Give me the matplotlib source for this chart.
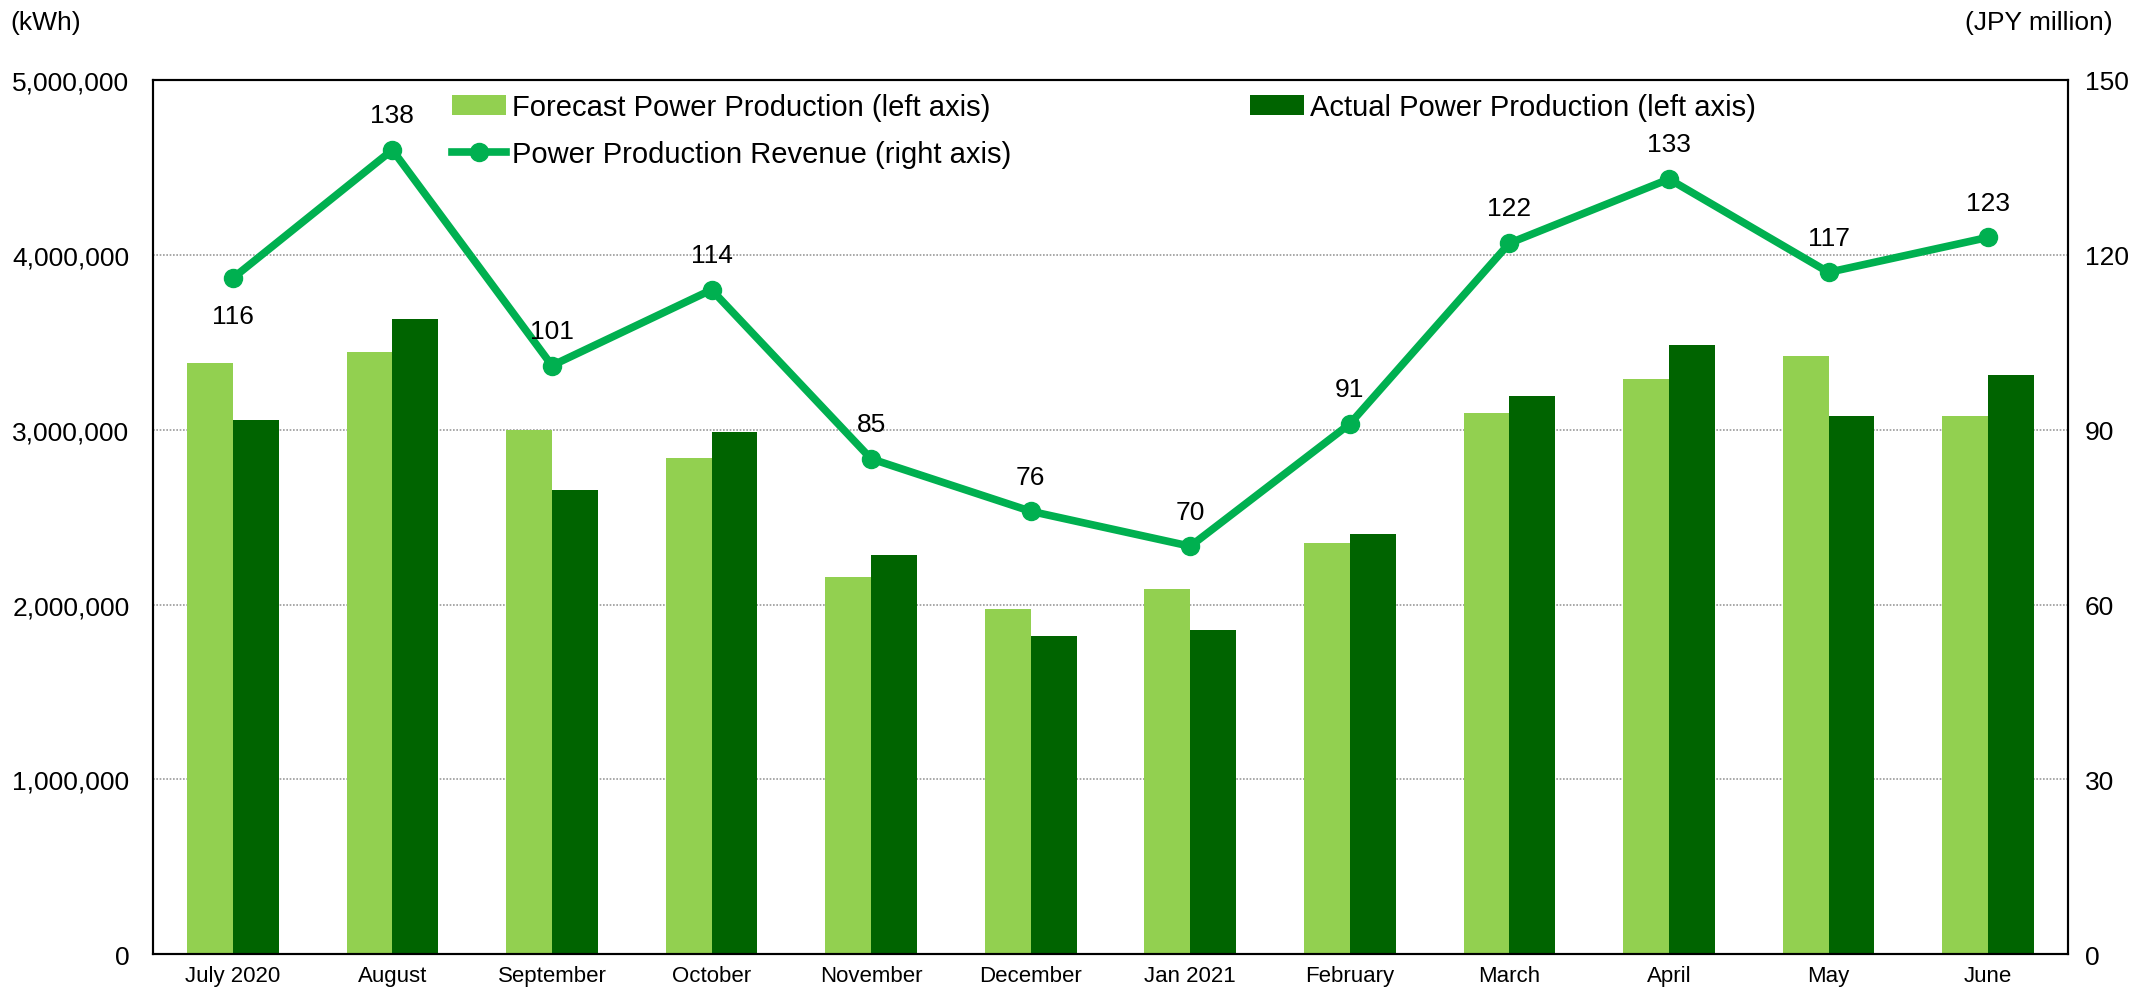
import numpy as np
import matplotlib.pyplot as plt

plt.rcParams['font.family'] = ['Liberation Sans', 'DejaVu Sans']

months = ['July 2020', 'August', 'September', 'October', 'November', 'December',
          'Jan 2021', 'February', 'March', 'April', 'May', 'June']
forecast = [3383000, 3445000, 3000000, 2836000, 2156000, 1977000,
            2086000, 2352000, 3094000, 3289000, 3422000, 3078000]
actual = [3055000, 3633000, 2656000, 2984000, 2281000, 1820000,
          1852000, 2406000, 3195000, 3484000, 3078000, 3313000]
revenue = [116, 138, 101, 114, 85, 76, 70, 91, 122, 133, 117, 123]

light = '#92D050'
dark = '#006400'
line_green = '#00B050'

fig = plt.figure(figsize=(21.43, 9.95), dpi=100)
ax = fig.add_axes([0.0714, 0.040, 0.8936, 0.8786])
ax2 = ax.twinx()

x = np.arange(len(months))
w = 0.287
b1 = ax.bar(x - w / 2, forecast, w, color=light, label='Forecast Power Production (left axis)', zorder=2)
b2 = ax.bar(x + w / 2, actual, w, color=dark, label='Actual Power Production (left axis)', zorder=2)

ax.set_xlim(-0.5, len(months) - 0.5)
ax.set_ylim(0, 5000000)
ax.set_yticks(np.arange(0, 5000001, 1000000))
ax.set_yticklabels(['{:,}'.format(v) for v in range(0, 5000001, 1000000)])
ax.set_xticks(x)
ax.set_xticklabels(months)
ax.yaxis.grid(True, color='#999999', linestyle=(0, (1, 1)), linewidth=1.2, zorder=0)
ax.set_axisbelow(True)

ln, = ax2.plot(x, revenue, color=line_green, linewidth=5.5, marker='o', markersize=13,
               label='Power Production Revenue (right axis)', zorder=3)
ax2.set_ylim(0, 150)
ax2.set_yticks(np.arange(0, 151, 30))

# etiquetas de los puntos
for i, v in enumerate(revenue):
    if i == 0:
        ax2.annotate(str(v), (i, v), xytext=(0, -27), textcoords='offset points',
                     ha='center', va='center', fontsize=19)
    else:
        ax2.annotate(str(v), (i, v), xytext=(0, 25), textcoords='offset points',
                     ha='center', va='center', fontsize=19)

for a in (ax, ax2):
    for s in a.spines.values():
        s.set_linewidth(1.5)
        s.set_color('black')
    a.tick_params(length=0)

ax.tick_params(axis='y', labelsize=19, pad=17)
ax.tick_params(axis='x', labelsize=16, pad=8)
ax2.tick_params(axis='y', labelsize=19, pad=12)

ax2.legend([b1, ln, b2],
           [b1.get_label(), ln.get_label(), b2.get_label()],
           ncol=2, loc='upper left', bbox_to_anchor=(0.156, 0.985),
           frameon=False, borderpad=0, borderaxespad=0, fontsize=21,
           handlelength=1.85, handletextpad=0.2, columnspacing=8.2,
           labelspacing=0.65)

fig.text(0.005, 0.977, '(kWh)', fontsize=19, ha='left', va='center')
fig.text(0.986, 0.977, '(JPY million)', fontsize=19, ha='right', va='center')

fig.savefig('out.png', dpi=100)
